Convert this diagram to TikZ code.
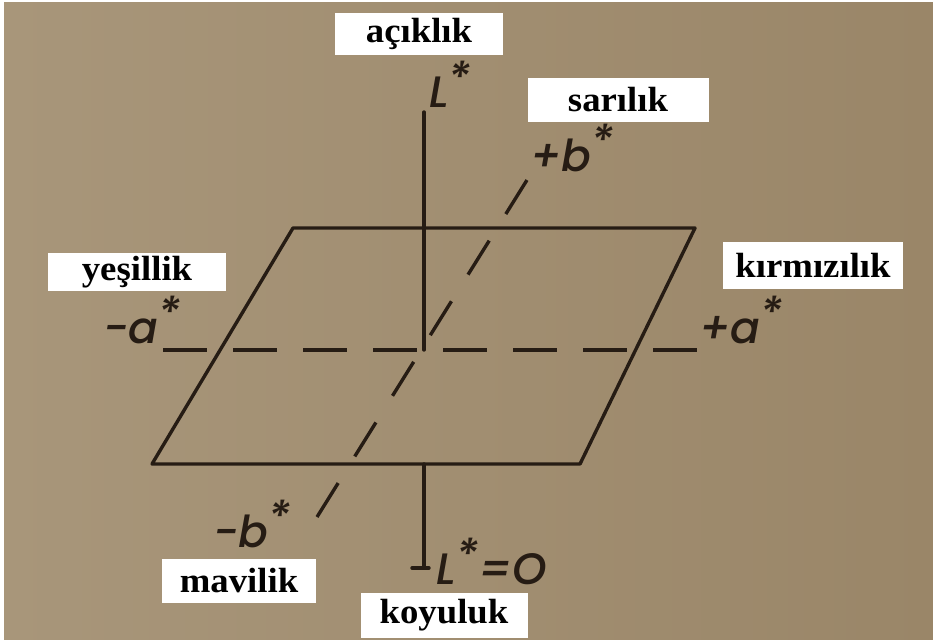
\documentclass[tikz,border=0pt]{standalone}
\usepackage{fontspec}
\newfontface\lab{Liberation Serif Bold}[FakeStretch=1.05]
\newfontfamily\hand{Poppins}[UprightFont=* Medium, ItalicFont=* Medium Italic]
\definecolor{bgl}{RGB}{168,150,122}
\definecolor{bgr}{RGB}{154,134,104}
\definecolor{inkc}{RGB}{38,28,20}
\newcommand{\st}{\raisebox{0.32em}{*}}
\begin{document}
\begin{tikzpicture}[x=1pt,y=-1pt]
\tikzset{
  ink/.style={line width=3.4pt, draw=inkc, line cap=round, line join=round},
  lbl/.style={fill=white, inner sep=0pt, font=\lab\fontsize{35}{35}\selectfont, text=black},
  hw/.style={font=\hand\itshape\fontsize{44}{44}\selectfont, text=inkc, inner sep=0pt},
}
\useasboundingbox (0,0) rectangle (933,639);
\fill[white] (0,0) rectangle (933,639);
\shade[left color=bgl, right color=bgr] (4,3) rectangle (933,639);
% plane
\coordinate (TL) at (293,228);
\coordinate (TR) at (695,228);
\coordinate (BR) at (580,464);
\coordinate (BL) at (152,464);
\draw[ink] (TL) -- (TR) -- (BR) -- (BL) -- cycle;
% L axis
\coordinate (O) at (424,350);
\coordinate (Ltop) at (424,112);
\coordinate (Lb1) at (424,464);
\coordinate (Lb2) at (424,568);
\coordinate (Tk1) at (412,568);
\coordinate (Tk2) at (429,568);
\draw[ink] (Ltop) -- (O);
\draw[ink] (Lb1) -- (Lb2);
\draw[ink] (Tk1) -- (Tk2);
% a axis
\coordinate (am) at (163,350);
\coordinate (ap) at (700,350);
\draw[ink, line cap=butt, dash pattern=on 44pt off 26pt] (am) -- (ap);
% b axis
\coordinate (bm) at (317,517);
\coordinate (bp) at (527,180);
\draw[ink, line cap=butt, dash pattern=on 40pt off 31.4pt] (bm) -- (bp);
% handwritten labels
\node[hw] (Lt) at (450,84) {L\st};
\node[hw] (bplus) at (572,148) {+b\st};
\node[hw] (aminus) at (142,320) {-a\st};
\node[hw] (aplus) at (741,320) {+a\st};
\node[hw] (bminus) at (252,524) {-b\st};
\node[hw] (L0) at (492,561) {L\st=O};
% boxed labels
\node[lbl, minimum width=168pt, minimum height=42pt] (acik) at (419,34) {açıklık};
\node[lbl, minimum width=181pt, minimum height=44pt] (sari) at (618,100) {sarılık};
\node[lbl, minimum width=178pt, minimum height=38pt] (yesil) at (137,272) {yeşillik};
\node[lbl, minimum width=180pt, minimum height=47pt] (kirmizi) at (813,265) {kırmızılık};
\node[lbl, minimum width=154pt, minimum height=44pt] (mavi) at (239,581) {mavilik};
\node[lbl, minimum width=167pt, minimum height=45pt] (koyu) at (444,615) {koyuluk};
\end{tikzpicture}
\end{document}
